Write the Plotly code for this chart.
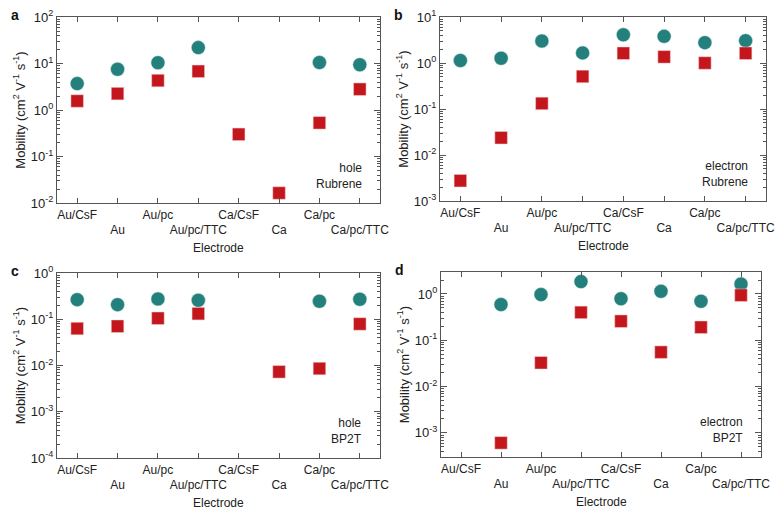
import plotly.graph_objects as go
import math

electrodes = ["Au/CsF", "Au", "Au/pc", "Au/pc/TTC", "Ca/CsF", "Ca", "Ca/pc", "Ca/pc/TTC"]

# Panel a: hole, Rubrene
a_circle = [3.7, 7.5, 10.4, 22, None, None, 10.5, 9.4]
a_square = [1.56, 2.25, 4.3, 6.8, 0.30, 0.0164, 0.53, 2.8]
# Panel b: electron, Rubrene
b_circle = [1.13, 1.27, 3.0, 1.66, 4.1, 3.8, 2.77, 3.06]
b_square = [0.00276, 0.0237, 0.132, 0.51, 1.63, 1.36, 1.0, 1.63]
# Panel c: hole, BP2T
c_circle = [0.265, 0.207, 0.275, 0.257, None, None, 0.245, 0.27]
c_square = [0.063, 0.0706, 0.105, 0.132, None, 0.0073, 0.0086, 0.079]
# Panel d: electron, BP2T
d_circle = [None, 0.59, 0.97, 1.85, 0.79, 1.14, 0.695, 1.64]
d_square = [None, 0.00061, 0.0327, 0.40, 0.258, 0.0554, 0.191, 0.94]

panels = [
    dict(letter="a", circ=a_circle, sq=a_square, yr=[-2, 2], carrier="hole", mat="Rubrene",
         dx=[57, 380], dy=[17, 203]),
    dict(letter="b", circ=b_circle, sq=b_square, yr=[-3, 1], carrier="electron", mat="Rubrene",
         dx=[440, 766], dy=[17, 201]),
    dict(letter="c", circ=c_circle, sq=c_square, yr=[-4, 0], carrier="hole", mat="BP2T",
         dx=[57, 380], dy=[273, 458]),
    dict(letter="d", circ=d_circle, sq=d_square, yr=[-3.52, 0.474], carrier="electron", mat="BP2T",
         dx=[441, 761], dy=[272, 457]),
]

W, H = 780, 512
TEAL = "#23807c"
RED = "#c4171d"
FRAME = "#555555"
FONT = "Liberation Sans, Arial, sans-serif"

ticktext = [("<br>" + e) if i % 2 else e for i, e in enumerate(electrodes)]

fig = go.Figure()
for k, p in enumerate(panels):
    n = "" if k == 0 else str(k + 1)
    xa, ya = "x" + n, "y" + n
    fig.add_trace(go.Scatter(x=electrodes, y=p["circ"], mode="markers", xaxis=xa, yaxis=ya,
                             cliponaxis=False,
                             marker=dict(symbol="circle", size=14, color=TEAL,
                                         line=dict(width=0.5, color="#d9e9e8")),
                             showlegend=False))
    fig.add_trace(go.Scatter(x=electrodes, y=p["sq"], mode="markers", xaxis=xa, yaxis=ya,
                             cliponaxis=False,
                             marker=dict(symbol="square", size=12.5, color=RED,
                                         line=dict(width=0.5, color="#f0d0d0")),
                             showlegend=False))
    lo, hi = p["yr"]
    dec = list(range(math.ceil(lo - 1e-9), math.floor(hi + 1e-9) + 1))
    tickvals = [10 ** d for d in dec]
    ticklabels = ["10<sup>%d</sup>" % d for d in dec]
    minor_vals = [m * 10 ** d for d in range(math.floor(lo), math.ceil(hi) + 1) for m in range(2, 10)]
    x0, x1 = p["dx"]
    y0, y1 = p["dy"]
    fig.update_layout(**{
        ("xaxis" + n): dict(
            domain=[x0 / W, x1 / W], anchor=ya, type="category", automargin=False,
            categoryorder="array", categoryarray=electrodes, range=[-0.5, 7.5],
            tickmode="array", tickvals=electrodes, ticktext=ticktext, tickangle=0,
            ticks="inside", ticklen=5, tickcolor=FRAME, mirror="ticks",
            showline=True, linecolor=FRAME, linewidth=1.3, showgrid=False, zeroline=False,
            tickfont=dict(family=FONT, size=12, color="#222"),
        ),
        ("yaxis" + n): dict(
            domain=[1 - y1 / H, 1 - y0 / H], anchor=xa, type="log", range=[lo, hi], automargin=False,
            tickmode="array", tickvals=tickvals, ticktext=ticklabels, tickangle=0,
            ticks="inside", ticklen=6, tickcolor=FRAME, mirror="ticks",
            minor=dict(tickvals=minor_vals, ticks="inside", ticklen=3, tickcolor=FRAME, showgrid=False),
            showline=True, linecolor=FRAME, linewidth=1.3, showgrid=False, zeroline=False,
            tickfont=dict(family=FONT, size=13, color="#222"),
            title=dict(text="Mobility (cm<sup>2</sup> V<sup>-1</sup> s<sup>-1</sup>)",
                       font=dict(family=FONT, size=13, color="#222"), standoff=2),
        ),
    })
    fig.add_annotation(xref="paper", yref="paper", x=(x0 + x1) / 2 / W, y=1 - (y1 + 45) / H,
                       text="Electrode", showarrow=False, xanchor="center", yanchor="middle",
                       font=dict(family=FONT, size=12, color="#222"))
    fig.add_annotation(xref="paper", yref="paper", x=(x0 - 48) / W, y=1 - (y0 - 2) / H,
                       text="<b>%s</b>" % p["letter"], showarrow=False,
                       xanchor="left", yanchor="middle",
                       font=dict(family=FONT, size=14, color="#111"))
    fig.add_annotation(xref="paper", yref="paper", x=(x1 - 16) / W, y=1 - (y1 - 27) / H,
                       text=p["carrier"] + "<br>" + p["mat"], showarrow=False, align="right",
                       xanchor="right", yanchor="middle",
                       font=dict(family=FONT, size=12, color="#222"))

fig.update_layout(width=W, height=H, margin=dict(l=0, r=0, t=0, b=0),
                  paper_bgcolor="white", plot_bgcolor="white")
fig.write_html("out.html")
